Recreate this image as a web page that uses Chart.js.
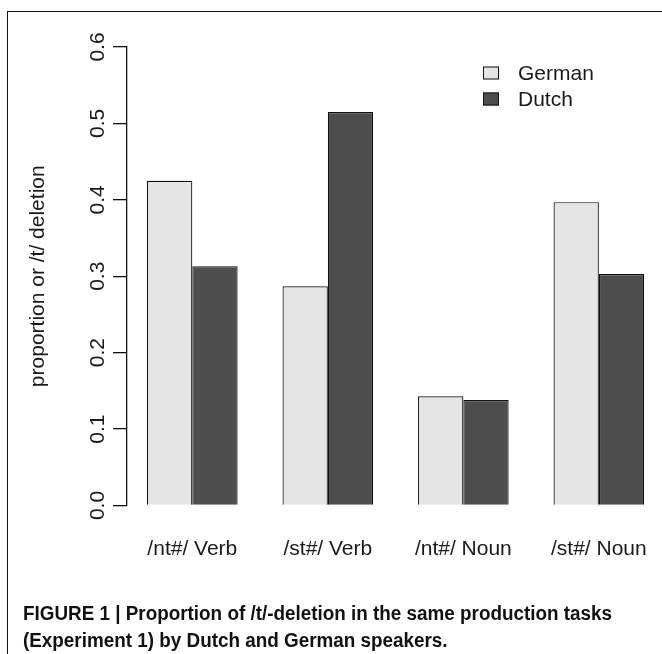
<!DOCTYPE html>
<html>
<head>
<meta charset="utf-8">
<script src="https://cdn.jsdelivr.net/npm/chart.js@4.4.1/dist/chart.umd.min.js"></script>
<style>
  html, body { margin: 0; padding: 0; background: #fff; overflow: hidden; }
  #wrap { position: relative; width: 662px; height: 654px; overflow: hidden; }
  #frame { position: absolute; left: 7px; top: 11px; width: 700px; height: 700px;
           border-top: 1.5px solid #111; border-left: 1.5px solid #111; }
  canvas { position: absolute; left: 0; top: 0; }
  #caption { position: absolute; left: 23px; top: 600px; color: #111;
             font: bold 20px "Liberation Sans Narrow", "Liberation Sans", Arial, sans-serif;
             line-height: 27px; white-space: nowrap; transform-origin: 0 0; }
  #caption div { display: inline-block; }
</style>
</head>
<body>
<div id="wrap">
  <div id="frame"></div>
  <canvas id="chart" width="662" height="654"></canvas>
  <div id="caption">
    <div id="cap1">FIGURE 1 | Proportion of /t/-deletion in the same production tasks</div><br>
    <div>(Experiment 1) by Dutch and German speakers.</div>
  </div>
</div>
<script>
// values
const categories = ['/nt#/ Verb', '/st#/ Verb', '/nt#/ Noun', '/st#/ Noun'];
const german = [0.425, 0.287, 0.143, 0.397];
const dutch = [0.313, 0.515, 0.138, 0.303];
const yTicks = [0, 0.1, 0.2, 0.3, 0.4, 0.5, 0.6];

const textColor = '#1a1a1a';
Chart.defaults.font.family = '"Liberation Sans", Arial, sans-serif';
Chart.defaults.font.size = 21;
Chart.defaults.color = textColor;

// R style legend inside the plot
const rLegend = {
  id: 'rLegend',
  afterDraw(chart) {
    const ctx = chart.ctx;
    ctx.save();
    chart.data.datasets.forEach((ds, i) => {
      const y = 73 + i * 26;
      ctx.fillStyle = ds.backgroundColor;
      ctx.fillRect(483, y - 6.5, 16, 13);
      ctx.strokeStyle = '#111';
      ctx.lineWidth = 1;
      ctx.strokeRect(483.5, y - 6, 15, 12);
      ctx.fillStyle = textColor;
      ctx.font = '21px "Liberation Sans", Arial, sans-serif';
      ctx.textAlign = 'left';
      ctx.textBaseline = 'middle';
      ctx.fillText(ds.label, 518, y + 1);
    });
    ctx.restore();
  }
};

// rotated y tick labels (las = 0)
const rotatedYTicks = {
  id: 'rotatedYTicks',
  afterDraw(chart) {
    const scale = chart.scales.y;
    const ctx = chart.ctx;
    ctx.save();
    ctx.fillStyle = textColor;
    ctx.font = '21px "Liberation Sans", Arial, sans-serif';
    ctx.textAlign = 'center';
    ctx.textBaseline = 'alphabetic';
    yTicks.forEach(v => {
      const py = scale.getPixelForValue(v);
      ctx.save();
      ctx.translate(104, py);
      ctx.rotate(-Math.PI / 2);
      ctx.fillText(v.toFixed(1), 0, 0);
      ctx.restore();
    });
    ctx.restore();
  }
};

new Chart(document.getElementById('chart'), {
  type: 'bar',
  data: {
    datasets: [{
      label: 'German',
      data: german.map((v, i) => ({x: i, y: v})),
      backgroundColor: '#e5e5e5',
      borderColor: '#111',
      borderWidth: 1.2
    }, {
      label: 'Dutch',
      data: dutch.map((v, i) => ({x: i, y: v})),
      backgroundColor: '#4d4d4d',
      borderColor: '#111',
      borderWidth: 1.2
    }]
  },
  options: {
    responsive: false,
    animation: false,
    devicePixelRatio: 1,
    categoryPercentage: 0.6687,
    barPercentage: 1,
    layout: { padding: { top: 47, left: 0, right: 0, bottom: 0 } },
    plugins: {
      legend: { display: false },
      tooltip: { enabled: false }
    },
    scales: {
      x: {
        type: 'linear',
        offset: false,
        min: -0.482,
        max: 3.466,
        afterBuildTicks: scale => { scale.ticks = categories.map((c, i) => ({value: i})); },
        afterFit: scale => {
          scale.height = 148.5;
          scale.paddingLeft = 0;
          scale.paddingRight = 0;
        },
        grid: { display: false, drawTicks: false },
        border: { display: false },
        ticks: {
          autoSkip: false,
          maxRotation: 0,
          padding: 31,
          callback: v => categories[v]
        }
      },
      y: {
        min: 0,
        max: 0.6,
        afterBuildTicks: scale => { scale.ticks = yTicks.map(v => ({value: v})); },
        afterFit: scale => {
          scale.width = 127;
          scale.paddingTop = 0;
          scale.paddingBottom = 0;
        },
        grid: { drawOnChartArea: false, drawTicks: true, tickLength: 14, color: '#111', lineWidth: 1.3 },
        border: { display: true, color: '#111', width: 1.3 },
        ticks: { display: false },
        title: {
          display: true,
          text: 'proportion or /t/ deletion',
          font: { size: 21 },
          padding: { top: 26, bottom: 0 }
        }
      }
    }
  },
  plugins: [rLegend, rotatedYTicks]
});

// squeeze the caption to the width it has in the figure
const cap = document.getElementById('caption');
const w = document.getElementById('cap1').getBoundingClientRect().width;
cap.style.transform = 'scaleX(' + (589 / w) + ')';
</script>
</body>
</html>
